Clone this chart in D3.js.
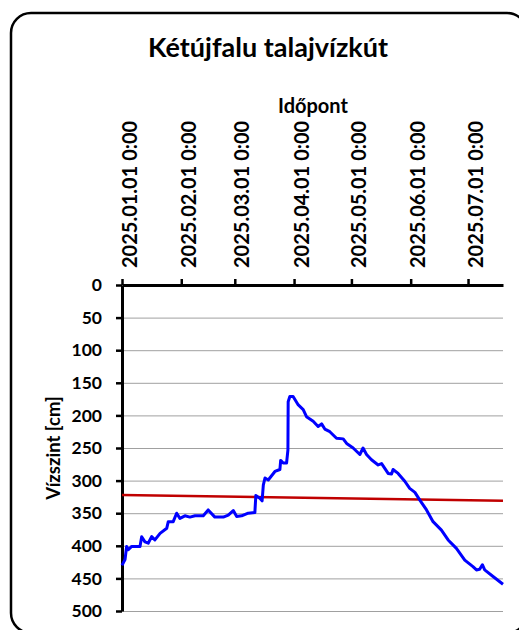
<!DOCTYPE html>
<html>
<head>
<meta charset="utf-8">
<script src="https://cdn.jsdelivr.net/npm/d3@7"></script>
<style>
  body { margin: 0; background: #fff; }
  svg { display: block; font-family: Lato, "Open Sans", sans-serif; font-weight: bold; }
</style>
</head>
<body>
<svg id="chart" width="519" height="630"></svg>
<script>
// Data: day offsets from 2025-01-01 and ground water level (cm below surface)
var dayOffsets = [0, 1.6, 2.4, 3.3, 5.1, 9.4, 10.3, 12.0, 13.7, 15.5, 17.2, 19.9, 23.4, 24.2, 26.8,
  28.6, 30.3, 32.9, 35.5, 38.2, 42.5, 45.1, 48.6, 53.0, 55.6, 58.2, 60.0, 62.6, 66.0, 69.5, 70.0,
  72.1, 73.3, 73.9, 74.8, 76.5, 80.0, 82.6, 83.0, 84.3, 86.1, 86.8, 86.9, 87.8, 89.5, 92.2, 94.8,
  96.5, 100.0, 102.6, 104.4, 106.1, 108.7, 112.2, 115.7, 117.5, 120.9, 124.4, 126.1, 127.9, 130.5,
  134.0, 135.8, 139.2, 141.0, 141.8, 144.4, 147.9, 150.5, 153.2, 155.8, 159.3, 162.7, 167.1, 170.6,
  174.9, 179.3, 183.6, 185.4, 187.1, 188.5, 189.7, 194.1, 199.3];
var levels = [430, 421, 401, 406, 401, 401, 386, 394, 396, 386, 391, 381, 373, 363, 363,
  350, 358, 354, 356, 354, 354, 345, 356, 356, 353, 346, 355, 354, 350, 349, 323,
  327, 331, 307, 296, 299, 286, 283, 269, 273, 273, 253, 179, 171, 171, 184, 191,
  202, 209, 217, 213, 221, 225, 235, 236, 243, 250, 260, 250, 260, 268,
  276, 274, 289, 290, 283, 289, 301, 312, 318, 330, 345, 363, 376, 391,
  404, 422, 432, 437, 436, 429, 437, 447, 459];
// linear trend line (start, end)
var trendLevels = [322, 331];
var monthTicks = ["2025-01-01", "2025-02-01", "2025-03-01", "2025-04-01", "2025-05-01", "2025-06-01", "2025-07-01"];
var yTicks = [0, 50, 100, 150, 200, 250, 300, 350, 400, 450, 500];

var startDate = new Date(Date.UTC(2025, 0, 1));
var points = dayOffsets.map(function (d, i) {
  return { date: d3.utcHour.offset(startDate, Math.round(d * 24)), value: levels[i] };
});
var endDate = points[points.length - 1].date;

var svg = d3.select("#chart");
var margin = { left: 122, right: 16, top: 285, bottom: 19 };
var width = 519 - margin.left - margin.right;
var height = 630 - margin.top - margin.bottom;

// frame
svg.append("rect")
  .attr("x", 11).attr("y", 13)
  .attr("width", 516).attr("height", 620)
  .attr("rx", 20)
  .attr("fill", "#fff").attr("stroke", "#000").attr("stroke-width", 2.5);

svg.append("text")
  .attr("x", 268).attr("y", 57)
  .attr("text-anchor", "middle")
  .attr("font-size", 27)
  .text("Kétújfalu talajvízkút");

svg.append("text")
  .attr("x", 313).attr("y", 113)
  .attr("text-anchor", "middle")
  .attr("font-size", 20)
  .text("Időpont");

svg.append("text")
  .attr("transform", "translate(54," + (margin.top + height / 2) + ") rotate(-90)")
  .attr("text-anchor", "middle")
  .attr("dy", "0.35em")
  .attr("font-size", 18.5)
  .text("Vízszint [cm]");

var g = svg.append("g").attr("transform", "translate(" + margin.left + "," + margin.top + ")");

var x = d3.scaleUtc().domain([startDate, endDate]).range([0, width]);
var y = d3.scaleLinear().domain([0, 500]).range([0, height]);

// gridlines
g.append("g")
  .attr("class", "grid")
  .call(d3.axisRight(y).tickValues(yTicks.slice(1)).tickSize(width).tickFormat(""))
  .call(function (s) {
    s.select(".domain").remove();
    s.selectAll("line").attr("stroke", "#a0a0a0").attr("stroke-width", 1);
  });

// y axis
g.append("g")
  .call(d3.axisLeft(y).tickValues(yTicks).tickSize(6).tickSizeOuter(0).tickPadding(14))
  .attr("font-family", null).attr("font-size", 17.5)
  .call(function (s) {
    s.select(".domain").attr("stroke-width", 3);
    s.selectAll(".tick line").attr("stroke-width", 2.5);
    s.selectAll("text").attr("fill", "#000");
  });

// top x axis
var fmt = d3.utcFormat("%Y.%m.%d");
g.append("g")
  .call(d3.axisTop(x).tickValues(monthTicks.map(function (d) { return new Date(d + "T00:00:00Z"); }))
    .tickSize(6).tickSizeOuter(0)
    .tickFormat(function (d) { return fmt(d) + " " + d.getUTCHours() + ":00"; }))
  .attr("font-family", null).attr("font-size", 20)
  .call(function (s) {
    s.select(".domain").attr("stroke-width", 3);
    s.selectAll(".tick line").attr("stroke-width", 2.5);
    s.selectAll("text")
      .attr("fill", "#000")
      .attr("transform", "rotate(-90)")
      .attr("text-anchor", "start")
      .attr("x", 17).attr("y", 7).attr("dy", "0.35em");
  });

// trend line
g.append("path")
  .datum([{ date: startDate, value: trendLevels[0] }, { date: endDate, value: trendLevels[1] }])
  .attr("fill", "none").attr("stroke", "#c00000").attr("stroke-width", 2.5)
  .attr("d", d3.line().x(function (d) { return x(d.date); }).y(function (d) { return y(d.value); }));

// water level
g.append("path")
  .datum(points)
  .attr("fill", "none").attr("stroke", "#0000ff").attr("stroke-width", 3)
  .attr("stroke-linejoin", "round")
  .attr("d", d3.line().x(function (d) { return x(d.date); }).y(function (d) { return y(d.value); }));
</script>
</body>
</html>
